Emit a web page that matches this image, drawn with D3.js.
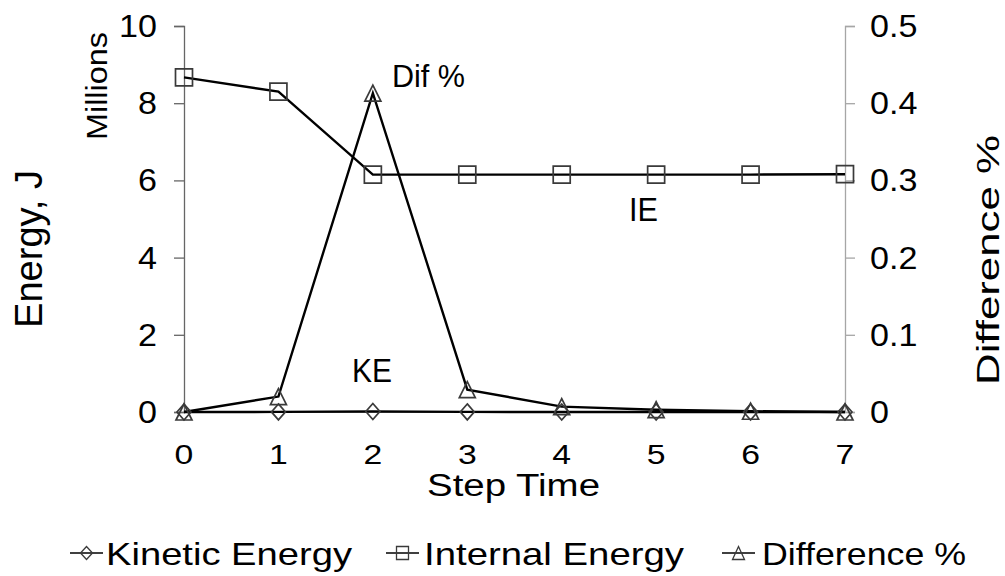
<!DOCTYPE html>
<html>
<head>
<meta charset="utf-8">
<script src="https://cdn.jsdelivr.net/npm/d3@7"></script>
<style>
  html, body { margin: 0; padding: 0; background: #fff; }
  svg { display: block; font-family: "Liberation Sans", Arial, sans-serif; }
</style>
</head>
<body>
<svg id="chart" width="1005" height="576"></svg>
<script>
// Step times and the three recorded series
const steps = [0, 1, 2, 3, 4, 5, 6, 7];
const kineticEnergy = [0, 0.002, 0.012, 0.002, 0.001, 0.0005, 0.0003, 0.0002]; // millions of J
const internalEnergy = [8.67, 8.30, 6.15, 6.15, 6.15, 6.15, 6.15, 6.16];        // millions of J
const differencePct = [0, 0.02, 0.413, 0.029, 0.007, 0.003, 0.001, 0];          // %

const leftTicks = [0, 2, 4, 6, 8, 10];
const rightTicks = [0, 0.1, 0.2, 0.3, 0.4, 0.5];
const seriesNames = ["Kinetic Energy", "Internal Energy", "Difference %"];

const svg = d3.select("#chart");

const x = d3.scaleLinear().domain([0, 7]).range([184, 845]);
const yL = d3.scaleLinear().domain([0, 10]).range([412, 26]);
const yR = d3.scaleLinear().domain([0, 0.5]).range([412, 26]);

// text helper: horizontal stretch sx applied in screen space
function label(txt, px, py, size, opts = {}) {
  const sx = opts.sx || 1;
  const rot = opts.rotate || 0;
  const t = svg.append("text")
    .attr("transform", `translate(${px},${py}) scale(${sx},1) rotate(${rot})`)
    .attr("font-size", size)
    .attr("fill", "#000")
    .attr("text-anchor", opts.anchor || "start")
    .text(txt);
  if (opts.length) t.attr("textLength", opts.length).attr("lengthAdjust", "spacingAndGlyphs");
  return t;
}

// x axis baseline
svg.append("line")
  .attr("x1", x(0)).attr("x2", x(7))
  .attr("y1", yL(0)).attr("y2", yL(0))
  .attr("stroke", "#808080").attr("stroke-width", 1);

// left axis
const gL = svg.append("g").attr("transform", `translate(${x(0)},0)`)
  .call(d3.axisLeft(yL).tickValues(leftTicks).tickSize(10).tickFormat(() => ""));
gL.select(".domain").attr("stroke", "#666").attr("stroke-width", 1.3);
gL.selectAll(".tick line").attr("stroke", "#666").attr("stroke-width", 1.3);

// right axis
const gR = svg.append("g").attr("transform", `translate(${x(7)},0)`)
  .call(d3.axisRight(yR).tickValues(rightTicks).tickSize(10).tickFormat(() => ""));
gR.select(".domain").attr("stroke", "#a6a6a6").attr("stroke-width", 1.3);
gR.selectAll(".tick line").attr("stroke", "#a6a6a6").attr("stroke-width", 1.3);

// tick labels
leftTicks.forEach(v => label(d3.format("d")(v), 157, yL(v) + 11, 31, { anchor: "end", sx: 1.1 }));
rightTicks.forEach(v => label(v === 0 ? "0" : d3.format(".1f")(v), 870, yR(v) + 11, 31, { anchor: "start", sx: 1.1 }));
steps.forEach(s => label(String(s), x(s), 464, 27, { anchor: "middle", sx: 1.25 }));

// axis titles
label("Step Time", 427, 496, 31, { length: 173 });
label("Energy, J", 42, 328, 38, { rotate: -90, length: 158 });
label("Millions", 107, 140, 30, { rotate: -90, length: 108 });
label("Difference %", 999, 385, 31, { rotate: -90, length: 250 });

// marker shapes
const markerPath = {
  diamond: s => `M0,${-s.h / 2}L${s.w / 2},0L0,${s.h / 2}L${-s.w / 2},0Z`,
  square: s => `M${-s.w / 2},${-s.h / 2}h${s.w}v${s.h}h${-s.w}Z`,
  triangle: s => `M0,${-s.h / 2}L${s.w / 2},${s.h / 2}L${-s.w / 2},${s.h / 2}Z`
};

const series = [
  { name: seriesNames[0], values: kineticEnergy, y: yL, marker: "diamond", size: { w: 14, h: 16 } },
  { name: seriesNames[1], values: internalEnergy, y: yL, marker: "square", size: { w: 17, h: 17 } },
  { name: seriesNames[2], values: differencePct, y: yR, marker: "triangle", size: { w: 16, h: 16 } }
];

series.forEach(sr => {
  const line = d3.line().x((d, i) => x(steps[i])).y(d => sr.y(d));
  svg.append("path")
    .attr("d", line(sr.values))
    .attr("fill", "none").attr("stroke", "#000").attr("stroke-width", 2.4);
});

series.forEach(sr => {
  svg.append("g").selectAll("path").data(sr.values).join("path")
    .attr("transform", (d, i) => `translate(${x(steps[i])},${sr.y(d)})`)
    .attr("d", markerPath[sr.marker](sr.size))
    .attr("fill", "none").attr("stroke", "#3a3a3a").attr("stroke-width", 1.7);
});

// in-plot series labels
label("Dif %", 392, 87, 32, { length: 73 });
label("IE", 629, 221, 33, { length: 29 });
label("KE", 352, 382, 34, { length: 40 });

// legend
const legend = [
  { lx: 70, tx: 106, len: 246 },
  { lx: 386, tx: 424, len: 260 },
  { lx: 722, tx: 762, len: 204 }
];
legend.forEach((lg, i) => {
  const sr = series[i];
  const cy = 553;
  svg.append("line")
    .attr("x1", lg.lx).attr("x2", lg.lx + 33)
    .attr("y1", cy).attr("y2", cy)
    .attr("stroke", "#000").attr("stroke-width", 1.5);
  svg.append("path")
    .attr("transform", `translate(${lg.lx + 16.5},${cy})`)
    .attr("d", markerPath[sr.marker]({ w: 12, h: 13 }))
    .attr("fill", "none").attr("stroke", "#3a3a3a").attr("stroke-width", 1.3);
  label(sr.name, lg.tx, 565, 32, { length: lg.len });
});
</script>
</body>
</html>
